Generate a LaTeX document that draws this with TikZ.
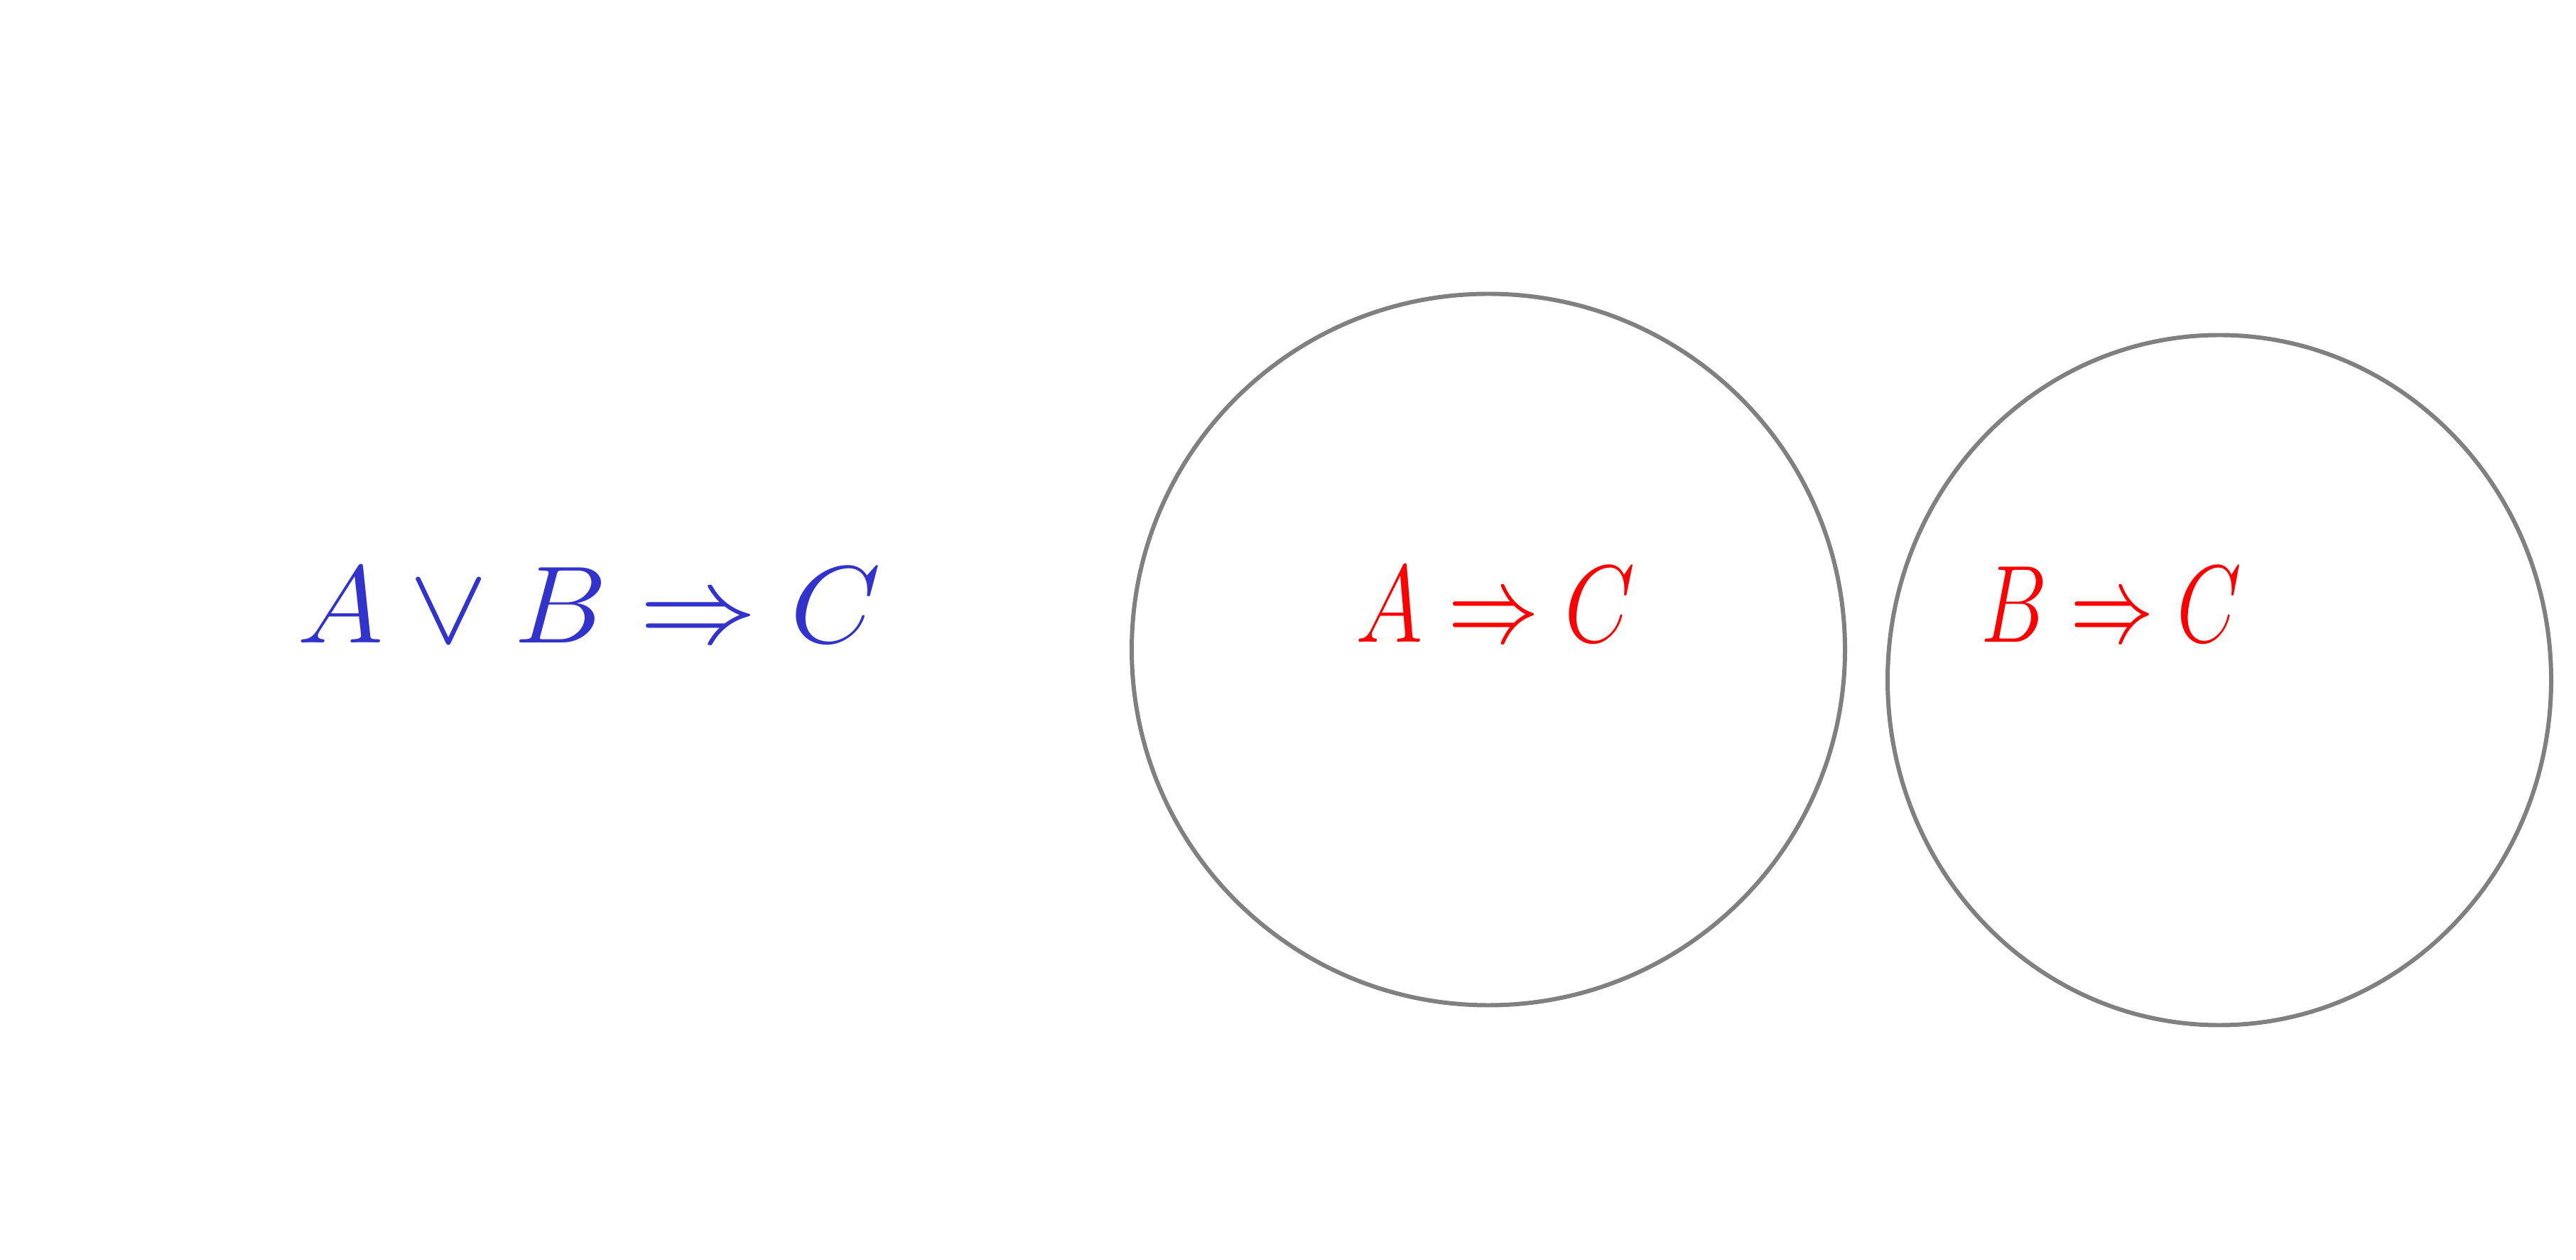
\RequirePackage{fix-cm}
\documentclass[tikz,border=0pt]{standalone}
\usepackage{amsmath,amssymb}
\usepackage{graphicx}
\usepackage{xcolor}
\usepackage{tikz}
\usetikzlibrary{positioning, shapes.geometric}

\definecolor{inkblue}{RGB}{50,50,205}
\definecolor{inkred}{RGB}{255,0,0}
\definecolor{ringgray}{RGB}{128,128,128}

\begin{document}
\begin{tikzpicture}[
    ring/.style={ellipse, draw=ringgray, line width=1.7pt, inner sep=0pt},
    formula/.style={font=\fontsize{44}{53}\selectfont, inner sep=0pt}
]
\useasboundingbox (0,0) rectangle (36.26,17.72);

% the two cases
\node[ring, minimum width=10.04cm, minimum height=10.01cm] (caseA) at (20.95, 8.58) {};
\node[ring, minimum width=9.34cm, minimum height=9.71cm] (caseB) at (31.24, 8.15) {};

\node[formula, text=inkblue] (goal) at (8.29, 9.20) {\scalebox{1.07}[1]{$A \lor B \Rightarrow C$}};
\node[formula, text=inkred] (left) at (21.05, 9.21) {\scalebox{0.83}[1]{$A \Rightarrow C$}};
\node[formula, text=inkred] (right) at (29.72, 9.21) {\scalebox{0.76}[1]{$B \Rightarrow C$}};

\end{tikzpicture}
\end{document}
